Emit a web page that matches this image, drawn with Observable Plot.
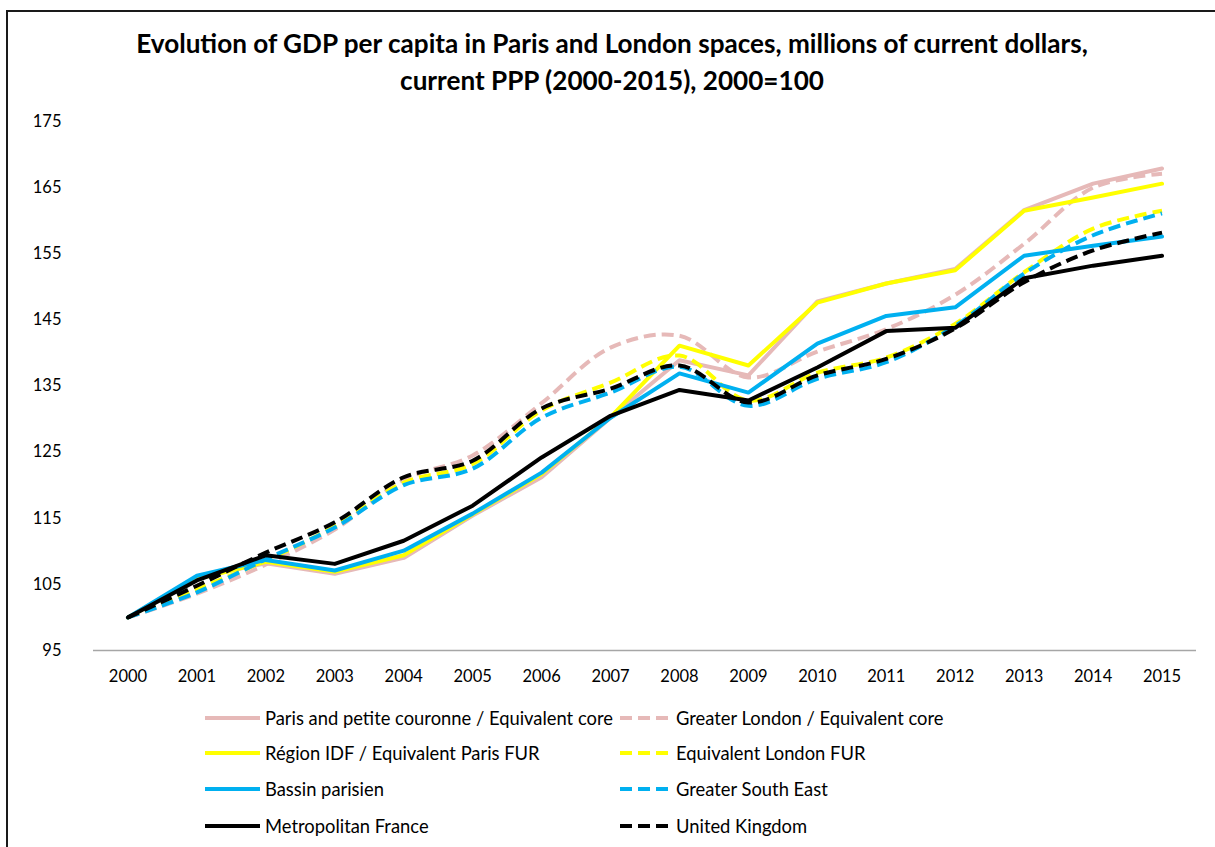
<!DOCTYPE html>
<html>
<head>
<meta charset="utf-8">
<script src="https://cdn.jsdelivr.net/npm/d3@7"></script>
<script src="https://cdn.jsdelivr.net/npm/@observablehq/plot@0.6"></script>
<style>
  html, body { margin: 0; padding: 0; background: #fff; }
  #root { position: relative; width: 1215px; height: 847px; overflow: hidden; background: #fff; font-family: Lato, "Open Sans", sans-serif; color: #000; }
  #frame { position: absolute; left: 6px; top: 10px; width: 1400px; height: 1000px; border-left: 2.5px solid #1a1a1a; border-top: 2.5px solid #1a1a1a; box-sizing: border-box; }
  .tline { position: absolute; left: 0; width: 1224px; text-align: center; font-weight: bold; line-height: 1.2; white-space: nowrap; }
  .tline span { white-space: nowrap; }
  #chart { position: absolute; left: 0; top: 100px; }
  .leg { position: absolute; height: 24px; display: flex; align-items: center; white-space: nowrap; }
  .leg svg { display: block; flex: none; }
  .leg span { line-height: 1; }
</style>
</head>
<body>
<div id="root">
  <div id="frame"></div>
  <div class="tline" id="t1"><span></span></div>
  <div class="tline" id="t2"><span></span></div>
  <div id="chart"></div>
  <div id="legend"></div>
</div>
<script>
// ---------- data ----------
const years = [2000, 2001, 2002, 2003, 2004, 2005, 2006, 2007, 2008, 2009, 2010, 2011, 2012, 2013, 2014, 2015];
const yTicks = [95, 105, 115, 125, 135, 145, 155, 165, 175];

const parisCore   = [100, 106.0, 108.2, 106.6, 109.0, 115.4, 121.2, 130.2, 138.9, 136.6, 147.8, 150.5, 152.7, 161.6, 165.6, 167.9];
const londonCore  = [100, 103.6, 108.0, 113.3, 120.8, 124.5, 132.4, 140.8, 142.6, 136.3, 140.2, 143.6, 148.8, 156.5, 165.0, 167.1];
const idfFUR      = [100, 105.8, 108.4, 106.9, 109.4, 115.6, 121.7, 130.3, 141.1, 138.1, 147.6, 150.5, 152.5, 161.5, 163.5, 165.6];
const londonFUR   = [100, 104.3, 108.6, 113.8, 120.4, 123.2, 131.3, 135.5, 139.6, 132.8, 137.0, 139.3, 144.4, 152.2, 158.8, 161.5];
const bassin      = [100, 106.3, 108.7, 107.1, 110.1, 115.7, 121.9, 130.2, 136.9, 134.0, 141.4, 145.6, 146.9, 154.7, 156.2, 157.6];
const greaterSE   = [100, 103.8, 108.8, 113.6, 120.0, 122.5, 130.2, 134.0, 137.9, 132.0, 136.1, 138.6, 144.1, 152.0, 157.8, 161.1];
const france      = [100, 105.6, 109.4, 108.1, 111.6, 116.9, 124.2, 130.5, 134.4, 132.8, 137.8, 143.3, 143.8, 151.3, 153.2, 154.7];
const uk          = [100, 104.8, 109.8, 114.4, 121.2, 123.7, 131.6, 134.6, 138.1, 132.5, 136.6, 139.1, 143.7, 150.7, 155.5, 158.2];

const seriesNames = [
  "Paris and petite couronne / Equivalent core",
  "Greater London / Equivalent core",
  "Région IDF / Equivalent Paris FUR",
  "Equivalent London FUR",
  "Bassin parisien",
  "Greater South East",
  "Metropolitan France",
  "United Kingdom"
];
const seriesValues = [parisCore, londonCore, idfFUR, londonFUR, bassin, greaterSE, france, uk];

const titleLines = [
  "Evolution of GDP per capita in Paris and London spaces, millions of current dollars,",
  "current PPP (2000-2015), 2000=100"
];

// ---------- styles ----------
const seriesColors = ["#E6B9B8", "#E6B9B8", "#FFFF00", "#FFFF00", "#00B0F0", "#00B0F0", "#000000", "#000000"];
const seriesDashed = [false, true, false, true, false, true, false, true];

// ---------- table ----------
const rows = [];
seriesNames.forEach((name, s) => {
  years.forEach((yr, i) => rows.push({ series: name, idx: s, year: yr, value: seriesValues[s][i] }));
});

// ---------- title ----------
const t1 = document.querySelector("#t1 span");
const t2 = document.querySelector("#t2 span");
t1.textContent = titleLines[0];
t2.textContent = titleLines[1];
let tfs = 22;
t1.parentNode.style.fontSize = tfs + "px";
t2.parentNode.style.fontSize = tfs + "px";
const w1 = t1.getBoundingClientRect().width;
tfs = tfs * 952 / w1;
t1.parentNode.style.fontSize = tfs + "px";
t2.parentNode.style.fontSize = tfs + "px";
t1.parentNode.style.top = (56 - (0.2 * tfs / 2 + 0.987 * tfs)) + "px";
t2.parentNode.style.top = (93 - (0.2 * tfs / 2 + 0.987 * tfs)) + "px";

// ---------- chart ----------
const lineMarks = seriesNames.map((name, s) => Plot.line(rows.filter(r => r.idx === s), {
  x: "year", y: "value",
  stroke: seriesColors[s],
  strokeWidth: 4,
  strokeDasharray: seriesDashed[s] ? "12,6" : null,
  strokeLinecap: seriesDashed[s] ? "butt" : "round",
  strokeLinejoin: "round",
  curve: seriesDashed[s] ? "catmull-rom" : "linear"
}));

const chart = Plot.plot({
  width: 1215,
  height: 600,
  marginTop: 21,
  marginBottom: 50,
  marginLeft: 93,
  marginRight: 19,
  style: { fontFamily: "Lato, 'Open Sans', sans-serif", fontSize: "16px", color: "#000", background: "transparent", overflow: "visible" },
  x: { type: "linear", domain: [1999.5, 2015.5] },
  y: { domain: [95, 175] },
  marks: [
    Plot.ruleY([95], { stroke: "#A6A6A6", strokeWidth: 1.5 }),
    Plot.axisY({ ticks: yTicks, tickSize: 0, tickPadding: 32, label: null, fontSize: 16.5 }),
    Plot.axisX({ ticks: years, tickSize: 0, tickPadding: 20, label: null, fontSize: 16.5, tickFormat: d => String(d) }),
    ...lineMarks
  ]
});
document.getElementById("chart").appendChild(chart);

// ---------- legend ----------
const legend = document.getElementById("legend");
const rowCenters = [718, 753, 789, 826];
const colSwatchX = [205, 620];
const colSwatchW = [55, 48];
const colTextX = [265, 676];
const labels = [];
seriesNames.forEach((name, s) => {
  const col = s % 2, row = Math.floor(s / 2);
  const item = document.createElement("div");
  item.className = "leg";
  item.style.left = colSwatchX[col] + "px";
  item.style.top = (rowCenters[row] - 12) + "px";
  const sw = colSwatchW[col];
  const svgNS = "http://www.w3.org/2000/svg";
  const svg = document.createElementNS(svgNS, "svg");
  svg.setAttribute("width", sw);
  svg.setAttribute("height", 8);
  const ln = document.createElementNS(svgNS, "line");
  ln.setAttribute("x1", 0); ln.setAttribute("x2", sw);
  ln.setAttribute("y1", 4); ln.setAttribute("y2", 4);
  ln.setAttribute("stroke", seriesColors[s]);
  ln.setAttribute("stroke-width", 4);
  if (seriesDashed[s]) ln.setAttribute("stroke-dasharray", "12,6");
  svg.appendChild(ln);
  item.appendChild(svg);
  const tx = document.createElement("span");
  tx.textContent = name;
  tx.style.marginLeft = (colTextX[col] - colSwatchX[col] - sw) + "px";
  item.appendChild(tx);
  legend.appendChild(item);
  labels.push(tx);
});
let lfs = 16;
labels.forEach(l => l.style.fontSize = lfs + "px");
const lw = labels[0].getBoundingClientRect().width;
lfs = lfs * 348 / lw;
labels.forEach(l => l.style.fontSize = lfs + "px");
</script>
</body>
</html>
